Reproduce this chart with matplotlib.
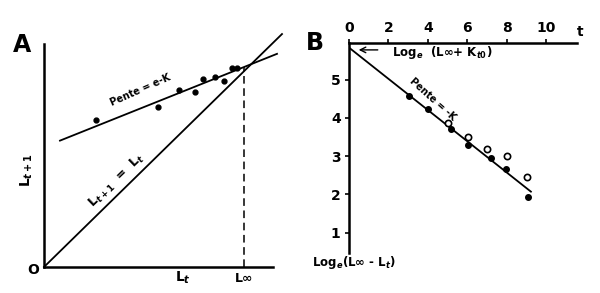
import numpy as np
import matplotlib.pyplot as plt

# panel A (arbitrary length units)
linf = 200
a_x = [52, 114, 135, 151, 159, 171, 180, 188, 193]
a_y = [147, 160, 177, 175, 188, 190, 186, 199, 199]
pente_a = 0.4

# panel B
t_fill = [3.05, 4.0, 5.15, 6.05, 7.2, 7.95, 9.1]
y_fill = [4.58, 4.23, 3.70, 3.29, 2.95, 2.66, 1.93]
t_open = [5.0, 6.05, 7.0, 8.0, 9.05]
y_open = [3.88, 3.51, 3.19, 3.00, 2.45]
b0, b_slope = 5.84, -0.408
x_ticks = [0, 2, 4, 6, 8, 10]
y_ticks = [1, 2, 3, 4, 5]

plt.rcParams['font.family'] = 'DejaVu Sans'
plt.rcParams['font.weight'] = 'bold'
fig = plt.figure(figsize=(6, 2.93), dpi=100)

# ---- A
ax = fig.add_axes([0.0733, 0.0887, 0.3817, 0.761])
ax.set_xlim(0, 229)
ax.set_ylim(0, 223)
for s in ['top', 'right']:
    ax.spines[s].set_visible(False)
for s in ['left', 'bottom']:
    ax.spines[s].set_linewidth(1.8)
ax.set_xticks([])
ax.set_yticks([])

ax.plot([0, 238], [0, 233], color='black', lw=1.3, clip_on=False)
xs = np.array([16, 233])
ax.plot(xs, linf + pente_a * (xs - linf), color='black', lw=1.3, clip_on=False)
ax.plot([linf, linf], [0, linf], color='black', lw=1.1, ls=(0, (5, 3)))
ax.plot(a_x, a_y, 'o', color='black', ms=3.5, clip_on=False)

ax.text(96, 177, 'Pente = e-K', rotation=24, fontsize=7, ha='center', va='center')
ax.text(73, 86, r'L$_{t+1}$  =  L$_t$', rotation=44, fontsize=9, ha='center', va='center')
ax.text(-17, 97, r'L$_{t+1}$', rotation=90, fontsize=10, ha='center', va='center')
ax.text(139, -11, r'L$_t$', fontsize=10, ha='center', va='center')
ax.text(linf, -11, r'L$\infty$', fontsize=9, ha='center', va='center')
ax.text(-11, -3, 'O', fontsize=10, ha='center', va='center')
fig.text(0.037, 0.846, 'A', fontsize=17, fontweight='bold', ha='center', va='center')

# ---- B
bx = fig.add_axes([0.5817, 0.1365, 0.38, 0.7167])
bx.set_xlim(0, 11.57)
bx.set_ylim(0.47, 5.96)
for s in ['bottom', 'right']:
    bx.spines[s].set_visible(False)
for s in ['left', 'top']:
    bx.spines[s].set_linewidth(1.8)
bx.xaxis.tick_top()
bx.set_xticks(x_ticks)
bx.set_yticks(y_ticks)
bx.tick_params(axis='both', labelsize=10, length=3, width=1.2, pad=3)
for lb in bx.get_xticklabels() + bx.get_yticklabels():
    lb.set_fontweight('bold')

tl = np.array([0, 9.23])
bx.plot(tl, b0 + b_slope * tl, color='black', lw=1.3)
bx.plot(t_fill, y_fill, 'o', color='black', ms=4, clip_on=False)
bx.plot(t_open, y_open, 'o', mfc='white', mec='black', mew=1.2, ms=4.5, clip_on=False)

bx.text(11.75, 6.25, 't', fontsize=10, ha='center', va='center')
bx.annotate('', xy=(0.35, 5.78), xytext=(1.6, 5.78),
            arrowprops=dict(arrowstyle='->', color='black', lw=1))
bx.text(2.2, 5.7, r'Log$_e$  (L$\infty$+ K$_{t0}$)', fontsize=8.5, ha='left', va='center')
bx.text(4.25, 4.5, 'Pente = -K', rotation=-42, fontsize=7, ha='center', va='center')
bx.text(-1.9, 0.22, r'Log$_e$(L$\infty$ - L$_t$)', fontsize=8.5, ha='left', va='center')
fig.text(0.525, 0.853, 'B', fontsize=17, fontweight='bold', ha='center', va='center')

plt.savefig('out.png', dpi=100)
